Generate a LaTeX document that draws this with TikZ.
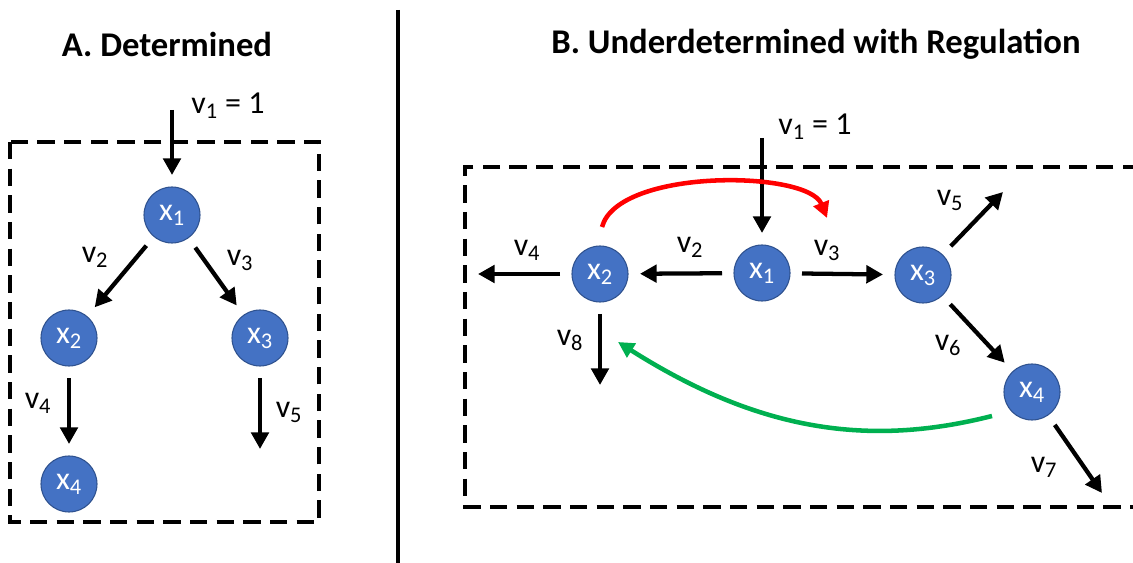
\documentclass[tikz,border=0pt]{standalone}
\usepackage{fontspec}
\setmainfont{Carlito}
\usetikzlibrary{arrows.meta}
\definecolor{rnBlue}{HTML}{4472C4}
\definecolor{rnBlueDark}{HTML}{2F528F}
\definecolor{rnRed}{HTML}{FF0000}
\definecolor{rnGreen}{HTML}{00B050}
\begin{document}
\begin{tikzpicture}[
    x=0.75pt, y=-0.75pt,
    rnNode/.style={circle, draw=rnBlueDark, line width=0.8pt, fill=rnBlue, text=white,
        minimum size=42pt, inner sep=0pt, outer sep=9pt, font=\fontsize{24}{28}\selectfont},
    rnFlux/.style={line width=3.2pt, -{Triangle[length=12.5pt,width=13pt]}},
    rnReg/.style={line width=3.4pt, -{Triangle[length=12pt,width=12pt]}},
    rnLabel/.style={font=\fontsize{24}{28}\selectfont, inner sep=0pt},
    rnTitle/.style={font=\fontsize{26}{30}\selectfont\bfseries, inner sep=0pt},
    rnBox/.style={line width=3pt, dash pattern=on 13pt off 7pt}
]
\useasboundingbox (0,0) rectangle (1133,563);

% A. determined
\node[rnTitle] (A-title) at (167,44) {A. Determined};
\draw[rnBox] (10,142) rectangle (319,522);
\node[rnNode] (A-x1) at (172,215) {x\textsubscript{1}};
\node[rnNode] (A-x2) at (69,338) {x\textsubscript{2}};
\node[rnNode] (A-x3) at (260,338) {x\textsubscript{3}};
\node[rnNode] (A-x4) at (69,484) {x\textsubscript{4}};
\coordinate (A-in) at (172,110);
\coordinate (A-out5) at (260,449);
\draw[rnFlux] (A-in) -- (A-x1);
\draw[rnFlux] (A-x1) -- (A-x2);
\draw[rnFlux] (A-x1) -- (A-x3);
\draw[rnFlux] (A-x2) -- (A-x4);
\draw[rnFlux] (A-x3) -- (A-out5);
\node[rnLabel] (A-lv1) at (228,106) {v\textsubscript{1} = 1};
\node[rnLabel] (A-lv2) at (95,257) {v\textsubscript{2}};
\node[rnLabel] (A-lv3) at (240,260) {v\textsubscript{3}};
\node[rnLabel] (A-lv4) at (38,403) {v\textsubscript{4}};
\node[rnLabel] (A-lv5) at (289,412) {v\textsubscript{5}};

\draw[line width=2.5pt] (398,10) -- (398,563);

% B. underdetermined with regulation
\node[rnTitle] (B-title) at (816,44) {B. Underdetermined with Regulation};
\draw[rnBox] (1140,167) -- (465,167) -- (465,507) -- (1140,507);
\node[rnNode] (B-x1) at (762,273) {x\textsubscript{1}};
\node[rnNode] (B-x2) at (600,274) {x\textsubscript{2}};
\node[rnNode] (B-x3) at (923,275) {x\textsubscript{3}};
\node[rnNode] (B-x4) at (1032,392) {x\textsubscript{4}};
\coordinate (B-in) at (762,138);
\coordinate (B-out4) at (478,274);
\coordinate (B-out5) at (1003,192);
\coordinate (B-out7) at (1102,493);
\coordinate (B-out8) at (600,385);
\draw[rnFlux] (B-in) -- (B-x1);
\draw[rnFlux] (B-x1) -- (B-x2);
\draw[rnFlux] (B-x1) -- (B-x3);
\draw[rnFlux] (B-x2) -- (B-out4);
\draw[rnFlux] (B-x3) -- (B-out5);
\draw[rnFlux] (B-x3) -- (B-x4);
\draw[rnFlux] (B-x4) -- (B-out7);
\draw[rnFlux] (B-x2) -- (B-out8);
\node[rnLabel] (B-lv1) at (815,127) {v\textsubscript{1} = 1};
\node[rnLabel] (B-lv2) at (690,247) {v\textsubscript{2}};
\node[rnLabel] (B-lv3) at (827,250) {v\textsubscript{3}};
\node[rnLabel] (B-lv4) at (527,250) {v\textsubscript{4}};
\node[rnLabel] (B-lv5) at (950,200) {v\textsubscript{5}};
\node[rnLabel] (B-lv6) at (948,345) {v\textsubscript{6}};
\node[rnLabel] (B-lv7) at (1044,467) {v\textsubscript{7}};
\node[rnLabel] (B-lv8) at (570,340) {v\textsubscript{8}};

% regulation
\coordinate (B-inhStart) at (602,227);
\coordinate (B-inhEnd) at (827,218);
\draw[rnReg, rnRed] (B-inhStart) .. controls (618,168) and (808,170) .. (B-inhEnd);
\coordinate (B-actStart) at (992,416);
\coordinate (B-actEnd) at (618,342);
\draw[rnReg, rnGreen] (B-actStart) .. controls (870,447) and (760,432) .. (B-actEnd);
\end{tikzpicture}
\end{document}
